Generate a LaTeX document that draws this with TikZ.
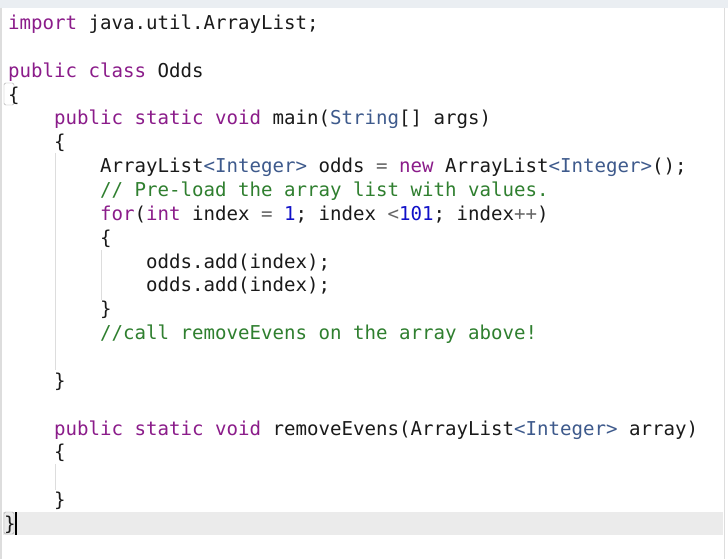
\documentclass[tikz,border=0pt]{standalone}
\usepackage{fontspec}
\newfontfamily\codefont{DejaVu Sans Mono}
\definecolor{kwc}{HTML}{8B1C8A}
\definecolor{tyc}{HTML}{3E5A8C}
\definecolor{cmc}{HTML}{2F7F2F}
\definecolor{nmc}{HTML}{1010C8}
\definecolor{txc}{HTML}{1A1A1A}
\definecolor{opc}{HTML}{666666}
\definecolor{bandc}{HTML}{EAEEF2}
\definecolor{curc}{HTML}{EBEBEB}
\definecolor{guidec}{HTML}{DDDDDD}
\newcommand{\kw}[1]{\textcolor{kwc}{#1}}
\newcommand{\ty}[1]{\textcolor{tyc}{#1}}
\newcommand{\cm}[1]{\textcolor{cmc}{#1}}
\newcommand{\nm}[1]{\textcolor{nmc}{#1}}
\newcommand{\op}[1]{\textcolor{opc}{#1}}
\tikzset{codeline/.style={anchor=base west,inner sep=0pt,font=\codefont\fontsize{19.1pt}{22pt}\selectfont,text=txc}}
\begin{document}
\begin{tikzpicture}[x=1pt,y=-1pt]
\useasboundingbox (0,0) rectangle (728,559);
\fill[white] (0,0) rectangle (728,559);
\fill[bandc] (0,0) rectangle (728,8);
\draw[guidec,line width=1.5pt] (1,8) -- (1,559);
\draw[guidec,line width=1pt] (724.5,8) -- (724.5,559);
\fill[curc] (3,512) rectangle (723,535);
% indent guides
\draw[guidec] (55.5,153) -- (55.5,370);
\draw[guidec] (101.5,250) -- (101.5,300);
\draw[guidec] (55.5,464) -- (55.5,490);
% bracket match boxes
\draw[gray!70,rounded corners=1.5pt] (4,83) rectangle (14,105);
\draw[gray!70,rounded corners=1.5pt] (4,512) rectangle (14,534);
\fill[black] (14.5,512) rectangle (16.5,535);
\def\L#1{29.5+23.86*#1}
\node[codeline] (l0) at (8,{\L{0}}) {\kw{import} java.util.ArrayList;};
\node[codeline] (l2) at (8,{\L{2}}) {\kw{public} \kw{class} Odds};
\node[codeline] (l3) at (8,{\L{3}}) {\{};
\node[codeline] (l4) at (54,{\L{4}}) {\kw{public} \kw{static} \kw{void} main(\ty{String}[] args)};
\node[codeline] (l5) at (54,{\L{5}}) {\{};
\node[codeline] (l6) at (100,{\L{6}}) {ArrayList\ty{<Integer>} odds \op{=} \kw{new} ArrayList\ty{<Integer>}();};
\node[codeline] (l7) at (100,{\L{7}}) {\cm{// Pre-load the array list with values.}};
\node[codeline] (l8) at (100,{\L{8}}) {\kw{for}(\kw{int} index \op{=} \nm{1}; index \op{<}\nm{101}; index\op{++})};
\node[codeline] (l9) at (100,{\L{9}}) {\{};
\node[codeline] (l10) at (146,{\L{10}}) {odds.add(index);};
\node[codeline] (l11) at (146,{\L{11}}) {odds.add(index);};
\node[codeline] (l12) at (100,{\L{12}}) {\}};
\node[codeline] (l13) at (100,{\L{13}}) {\cm{//call removeEvens on the array above!}};
\node[codeline] (l15) at (54,{\L{15}}) {\}};
\node[codeline] (l17) at (54,{\L{17}}) {\kw{public} \kw{static} \kw{void} removeEvens(ArrayList\ty{<Integer>} array)};
\node[codeline] (l18) at (54,{\L{18}}) {\{};
\node[codeline] (l20) at (54,{\L{20}}) {\}};
\node[codeline] (l21) at (4,{\L{21}}) {\}};
\end{tikzpicture}
\end{document}
